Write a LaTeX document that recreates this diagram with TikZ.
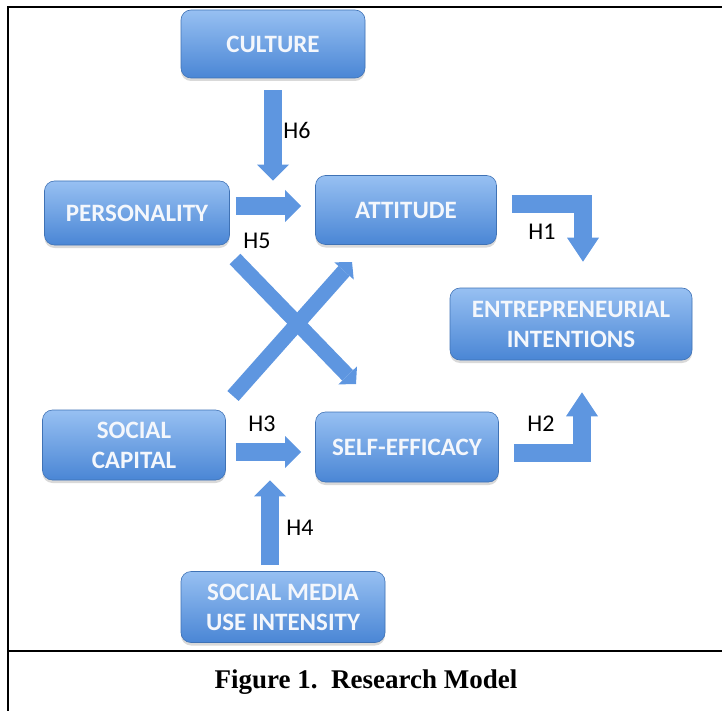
\documentclass[tikz,border=0pt]{standalone}
\usepackage{fontspec}
\setmainfont{Liberation Serif}
\newfontfamily\boxfont{Carlito}
\usepackage{tikz}
\usetikzlibrary{arrows.meta}
\usetikzlibrary{shadows}
\definecolor{boxtop}{HTML}{97C0F2}
\definecolor{boxbot}{HTML}{4A86D5}
\definecolor{arrowblue}{HTML}{5E96E0}
\definecolor{boxtext}{HTML}{F4F7FC}
\tikzset{varbox/.style={rounded corners=5pt, top color=boxtop, bottom color=boxbot,
         draw=boxbot!85!black, line width=0.3pt, text=boxtext, align=center,
         font=\boxfont\bfseries\fontsize{12.5}{15}\selectfont, inner sep=0pt,
         drop shadow={opacity=0.3, shadow xshift=0pt, shadow yshift=-1.5pt}},
         blk/.style={draw=arrowblue, line width=9pt, line join=miter,
         -{Triangle[width=16pt,length=8pt,line width=0pt]}},
         blkbent/.style={blk, -{Triangle[width=16pt,length=12pt,line width=0pt]}},
         blkx/.style={draw=arrowblue, line width=7.5pt,
         -{Triangle[width=13pt,length=6pt,line width=0pt]}},
         hyp/.style={font=\boxfont\fontsize{12}{14}\selectfont, inner sep=0pt}}

\begin{document}
\begin{tikzpicture}[x=0.5pt,y=-0.5pt]
\useasboundingbox (0,0) rectangle (722,711);
% frame
\draw[line width=1pt] (8,711) -- (8,7) -- (722,7);
\draw[line width=1pt] (8,651) -- (722,651);
\node[font=\bfseries\fontsize{13.5}{16}\selectfont] (cap) at (366,682) {Figure 1.\ \ Research Model};

% constructs
\node[varbox, minimum width=92pt, minimum height=34pt] (cult) at (273,44) {CULTURE};
\node[varbox, minimum width=92.5pt, minimum height=32pt] (pers) at (137,213) {PERSONALITY};
\node[varbox, minimum width=90.5pt, minimum height=34.5pt] (att) at (406,210) {ATTITUDE};
\node[varbox, minimum width=121pt, minimum height=36pt] (ent) at (571,324) {ENTREPRENEURIAL\\INTENTIONS};
\node[varbox, minimum width=91.5pt, minimum height=35pt] (soc) at (134,445) {SOCIAL\\CAPITAL};
\node[varbox, minimum width=91.5pt, minimum height=35pt] (self) at (407,447) {SELF-EFFICACY};
\node[varbox, minimum width=102pt, minimum height=35.5pt] (smu) at (283,607) {SOCIAL MEDIA\\USE INTENSITY};

% hypotheses
\draw[blk, shorten <=6pt] (cult.south) -- (cult.south |- pers.north);
\draw[blk, shorten <=3pt, shorten >=7pt] ([yshift=3.5pt]pers.east) -- ([yshift=3.5pt]pers.east -| att.west);
\draw[blk, shorten <=5pt, shorten >=7pt] ([yshift=-3.5pt]soc.east) -- ([yshift=-3.5pt]soc.east -| self.west);
\draw[blk, shorten <=3pt] ([xshift=-6.5pt]smu.north) -- ([xshift=-6.5pt]smu.north |- soc.south);
\draw[blkbent] ([xshift=7.5pt,yshift=3pt]att.east) -| ([xshift=6pt,yshift=13pt]ent.north);
\draw[blkbent] ([xshift=7.5pt,yshift=-3pt]self.east) -| ([xshift=5.5pt,yshift=-16pt]ent.south);

\coordinate (pa) at (235,259);
\coordinate (pb) at (356,384);
\coordinate (sa) at (233,396);
\coordinate (sb) at (352,262);
\draw[blkx] (pa) -- (pb);
\draw[blkx] (sa) -- (sb);

\node[hyp] (h1) at (542,232) {H1};
\node[hyp] (h2) at (541,424) {H2};
\node[hyp] (h3) at (262,424) {H3};
\node[hyp] (h4) at (300,528) {H4};
\node[hyp] (h5) at (257,241) {H5};
\node[hyp] (h6) at (297,130) {H6};
\end{tikzpicture}
\end{document}
